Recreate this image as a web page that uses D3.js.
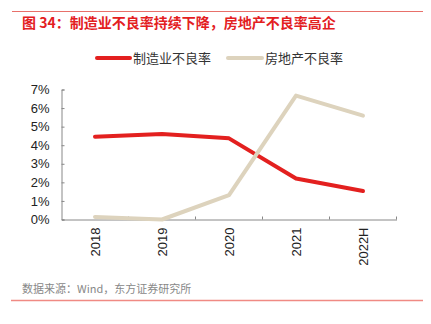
<!DOCTYPE html>
<html><head><meta charset="utf-8">
<script src="https://cdn.jsdelivr.net/npm/d3@7"></script>
<style>body{margin:0;background:#fff}</style>
</head><body><svg id="c" width="431" height="324"></svg>
<script>
const categories = ["2018","2019","2020","2021","2022H"];
const manufacturing = [4.46, 4.60, 4.37, 2.21, 1.53];
const realEstate = [0.14, 0.0, 1.31, 6.67, 5.59];
const yTicks = [0,1,2,3,4,5,6,7];
const seriesNames = ["制造业不良率","房地产不良率"];
const colors = ["#e3201f","#ddd3bd"];

const svg = d3.select("#c");
const font = "'Liberation Sans', Arial, 'Noto Sans CJK SC', sans-serif";
svg.append("line").attr("x1",12).attr("x2",423).attr("y1",11.5).attr("y2",11.5).attr("stroke","#e8706a").attr("stroke-width",1);
svg.append("text").attr("x",22).attr("y",28).attr("fill","#e3201f").attr("font-weight","bold")
  .attr("font-size",14).attr("font-family","'Noto Sans CJK SC', sans-serif").text("图 34：制造业不良率持续下降，房地产不良率高企");

const x = d3.scaleBand().domain(categories).range([61.5,396.5]);
const y = d3.scaleLinear().domain([0,7]).range([219.5,89.5]);

// legend
const lg = [[97,130,133],[228,262,265]];
seriesNames.forEach((n,i)=>{
  svg.append("line").attr("x1",lg[i][0]).attr("x2",lg[i][1]).attr("y1",58).attr("y2",58)
    .attr("stroke",colors[i]).attr("stroke-width",4).attr("stroke-linecap","round");
  svg.append("text").attr("x",lg[i][2]).attr("y",63).attr("font-size",13).attr("fill","#333")
    .attr("font-family","'Noto Sans CJK SC', sans-serif").text(n);
});

// y axis
const ya = svg.append("g").attr("transform","translate(61.5,0)")
  .call(d3.axisRight(y).tickValues(yTicks).tickSize(3).tickFormat(d=>d+"%"));
ya.select(".domain").attr("stroke","#888");
ya.selectAll(".tick line").attr("stroke","#888");
ya.selectAll(".tick text").attr("x",-12).attr("text-anchor","end").attr("font-size",13)
  .attr("fill","#222").attr("font-family",font);

// x axis
const xa = svg.append("g").attr("transform","translate(0,219.5)")
  .call(d3.axisBottom(x).tickSizeOuter(0).tickSize(0));
xa.select(".domain").attr("stroke","#888");
xa.selectAll(".tick text").attr("transform","rotate(-90)").attr("x",-8).attr("y",0).attr("dy","0.35em")
  .attr("text-anchor","end").attr("font-size",13).attr("fill","#222").attr("font-family",font);
const bounds = categories.map(c=>x(c)).concat([x.range()[1]]).slice(1);
svg.append("g").selectAll("line").data(bounds).join("line")
  .attr("x1",d=>d).attr("x2",d=>d).attr("y1",216.5).attr("y2",219.5).attr("stroke","#888");

const line = d3.line().x((d,i)=>x(categories[i])+x.bandwidth()/2).y(d=>y(d));
[manufacturing, realEstate].forEach((s,i)=>{
  svg.append("path").datum(s).attr("d",line).attr("fill","none").attr("stroke",colors[i])
    .attr("stroke-width",4).attr("stroke-linejoin","round").attr("stroke-linecap","round");
});
svg.append("text").attr("x",22).attr("y",293).attr("font-size",11).attr("fill","#888")
  .attr("font-family","'Noto Sans CJK SC', sans-serif").text("数据来源：Wind，东方证券研究所");
svg.append("line").attr("x1",11).attr("x2",423).attr("y1",300.5).attr("y2",300.5).attr("stroke","#f08a84").attr("stroke-width",1.5);
</script></body></html>
